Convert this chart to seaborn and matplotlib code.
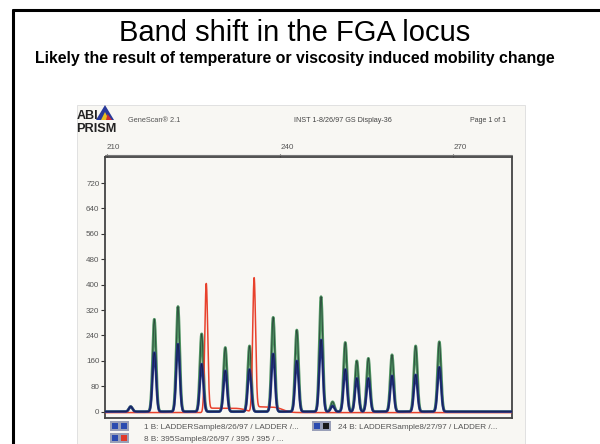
import numpy as np
import pandas as pd
import matplotlib
matplotlib.use("Agg")
import matplotlib.pyplot as plt
import seaborn as sns
from matplotlib.patches import Rectangle, Polygon

sns.set_style("white")
plt.rcParams['font.family'] = ['Liberation Sans', 'DejaVu Sans']

# -------------------------
# Data (size in bp, height in RFU)
# -------------------------
ladder_pos = [214.1, 218.2, 222.3, 226.4, 230.5, 234.7, 238.8, 242.9, 247.1,
              249.1, 251.3, 253.3, 255.3, 259.4, 263.5, 267.6]
ladder_green = [16, 291, 331, 245, 202, 207, 297, 257, 362,
                31, 218, 160, 168, 179, 207, 220]
ladder_blue = [16, 186, 213, 150, 129, 133, 182, 160, 226,
               18, 133, 105, 105, 113, 116, 140]

sample_pos = [227.2, 235.5]
sample_red = [404, 420]
# shelf left behind each red peak: start, end, level
shelf_start = [227.4, 235.7]
shelf_end = [234.2, 240.5]
shelf_level = [14, 18]

y_ticks = [0, 80, 160, 240, 320, 400, 480, 560, 640, 720]
x_ticks = [210, 240, 270]

legend_rows = ["1 B: LADDERSample8/26/97 / LADDER /...",
               "8 B: 395Sample8/26/97 / 395 / 395 / ...",
               "24 B: LADDERSample8/27/97 / LADDER /..."]

W, H = 600, 444


def fx(x):
    return x / W


def fy(y):
    return 1 - y / H


def trace(grid, pos, heights, sigma=0.3):
    out = np.zeros_like(grid)
    for p, h in zip(pos, heights):
        out += h * np.exp(-0.5 * ((grid - p) / sigma) ** 2)
    return out


grid = np.linspace(209.7, 280.2, 3000)
green = trace(grid, ladder_pos, ladder_green)
blue = trace(grid, ladder_pos, ladder_blue)
red = trace(grid, sample_pos, sample_red, sigma=0.25) - 3
for s, e, lv in zip(shelf_start, shelf_end, shelf_level):
    red += lv * (1 / (1 + np.exp(-(grid - s) / 0.15))) * (1 / (1 + np.exp((grid - e) / 0.6)))

df = pd.DataFrame({"size": np.concatenate([grid, grid, grid]),
                   "rfu": np.concatenate([green, red, blue]),
                   "dye": ["green"] * len(grid) + ["red"] * len(grid) + ["blue"] * len(grid)})

fig = plt.figure(figsize=(6, 4.44), dpi=100)

# slide border (runs off the right and bottom edges)
fig.add_artist(plt.Line2D([fx(13), fx(13)], [fy(10), fy(460)], color='black', lw=2.2))
fig.add_artist(plt.Line2D([fx(13), fx(620)], [fy(10), fy(10)], color='black', lw=2.2))

fig.text(fx(295), fy(41), "Band shift in the FGA locus", ha='center', va='baseline',
         fontsize=21, color='black')
fig.text(fx(295), fy(63), "Likely the result of temperature or viscosity induced mobility change",
         ha='center', va='baseline', fontsize=11.4, fontweight='bold', color='black')

# scanned printout background
fig.patches.append(Rectangle((fx(77), fy(450)), fx(525) - fx(77), fy(105) - fy(450),
                             transform=fig.transFigure, facecolor='#f8f7f3',
                             edgecolor='#dddddd', lw=0.6, zorder=-1))

# header of the printout
fig.text(fx(77), fy(119), "ABI", fontsize=9, fontweight='bold', color='#222222',
         va='baseline', ha='left')
fig.text(fx(76), fy(132), "PRISM", fontsize=9.2, fontweight='bold', color='#222222',
         va='baseline', ha='left')
tri = [(fx(96), fy(120)), (fx(114), fy(120)), (fx(105), fy(105))]
fig.patches.append(Polygon(tri, closed=True, transform=fig.transFigure,
                           facecolor='#2a3a9a', edgecolor='none', zorder=3))
fig.patches.append(Polygon([(fx(101), fy(120)), (fx(109), fy(120)), (fx(105), fy(112))],
                           closed=True, transform=fig.transFigure,
                           facecolor='#e8c020', edgecolor='none', zorder=4))
fig.patches.append(Polygon([(fx(106), fy(120)), (fx(112), fy(120)), (fx(107.5), fy(114))],
                           closed=True, transform=fig.transFigure,
                           facecolor='#d03030', edgecolor='none', zorder=5))
fig.text(fx(128), fy(122), "GeneScan® 2.1", fontsize=5.3, color='#555555', va='baseline')
fig.text(fx(343), fy(122), "INST 1-8/26/97 GS Display-36", fontsize=5.2, color='#444444',
         va='baseline', ha='center')
fig.text(fx(470), fy(122), "Page 1 of 1", fontsize=5, color='#444444', va='baseline')

ax = fig.add_axes([fx(105), fy(418), fx(512) - fx(105), fy(157) - fy(418)])
ax.set_facecolor('#f8f7f3')

palette = {"green": "#4f9462", "red": "#e8412c", "blue": "#25358a"}
sns.lineplot(data=df[df.dye == "green"], x="size", y="rfu", color=palette["green"],
             lw=2.0, ax=ax, sort=False, zorder=2)
sns.lineplot(data=df[df.dye == "green"], x="size", y="rfu", color='#1c2a2a',
             lw=0.6, alpha=0.7, ax=ax, sort=False, zorder=3)
sns.lineplot(data=df[df.dye == "red"], x="size", y="rfu", color=palette["red"],
             lw=1.1, ax=ax, sort=False, zorder=4)
sns.lineplot(data=df[df.dye == "blue"], x="size", y="rfu", color=palette["blue"],
             lw=1.8, ax=ax, sort=False, zorder=5)
sns.lineplot(data=df[df.dye == "blue"], x="size", y="rfu", color='#111a3a',
             lw=0.6, alpha=0.8, ax=ax, sort=False, zorder=6)

ax.set_xlim(209.65, 280.2)
ax.set_ylim(-20, 802)
ax.set_xlabel("")
ax.set_ylabel("")

ax.set_yticks(y_ticks)
ax.set_yticklabels([str(v) for v in y_ticks], fontsize=5.8, color='#555555')
ax.tick_params(axis='y', direction='out', length=3, width=0.8, color='#333333', pad=1, left=True)

ax.xaxis.tick_top()
ax.set_xticks(x_ticks)
ax.set_xticklabels([str(v) for v in x_ticks], fontsize=5.8, color='#555555', ha='left')
ax.tick_params(axis='x', direction='out', length=2, width=0.8, color='#333333', pad=2, top=True)

for sp in ax.spines.values():
    sp.set_color('#444444')
    sp.set_linewidth(1.3)
# second rule just above the top frame, as on the printout
ax.plot([0, 1], [1.008, 1.008], transform=ax.transAxes, color='#777777', lw=0.8, clip_on=False)

# legend squares and labels under the printout
sq_rows = [(111, 426, ['#2b4bb0', '#2b4bb0']),
           (111, 438, ['#2b4bb0', '#e03a2a']),
           (313, 426, ['#2b4bb0', '#1a1a1a'])]
for x0, yc, cols in sq_rows:
    fig.patches.append(Rectangle((fx(x0 - 1), fy(yc + 5)), fx(19) - fx(0), fy(0) - fy(10),
                                 transform=fig.transFigure, facecolor='#9aa0b8',
                                 edgecolor='none', zorder=3))
    for k, c in enumerate(cols):
        fig.patches.append(Rectangle((fx(x0 + 1 + 9 * k), fy(yc + 3)), fx(6) - fx(0),
                                     fy(0) - fy(6), transform=fig.transFigure,
                                     facecolor=c, edgecolor='none', zorder=4))

fig.text(fx(144), fy(428.5), legend_rows[0], fontsize=5.9, color='#555555', va='baseline')
fig.text(fx(144), fy(440.5), legend_rows[1], fontsize=5.9, color='#555555', va='baseline')
fig.text(fx(338), fy(428.5), legend_rows[2], fontsize=5.9, color='#555555', va='baseline')

fig.savefig("out.png", dpi=100, facecolor='white')
